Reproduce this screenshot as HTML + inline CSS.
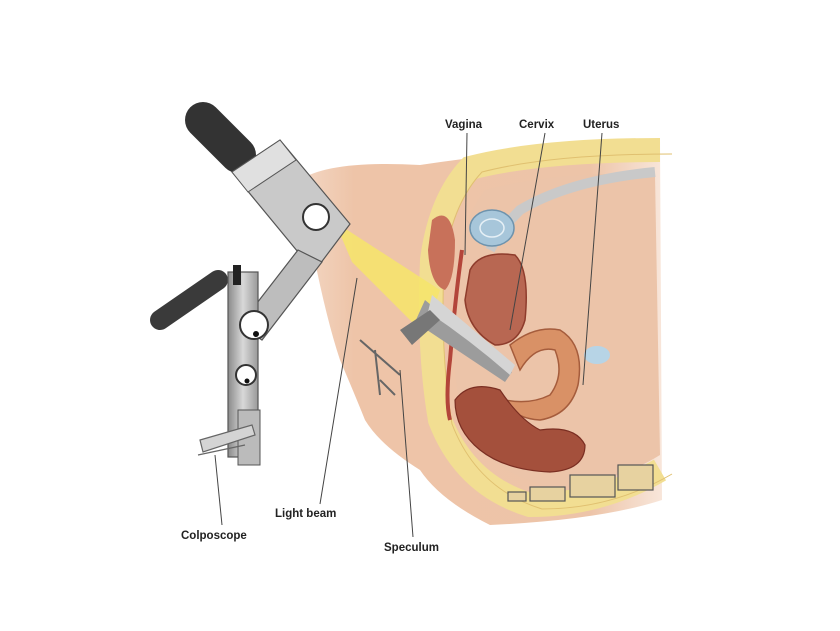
<!DOCTYPE html>
<html><head><style>
html,body{margin:0;padding:0;background:#fff;}
svg{display:block;}
text{font-family:"Liberation Sans",sans-serif;font-weight:bold;font-size:11.5px;fill:#222;}
</style></head><body>
<svg width="840" height="631" viewBox="0 0 840 631">
<defs>
<linearGradient id="sk" x1="0" y1="0" x2="1" y2="0">
<stop offset="0" stop-color="#f3d7c4"/><stop offset="0.15" stop-color="#eec4a8"/><stop offset="0.8" stop-color="#edc4a8"/><stop offset="1" stop-color="#f8e6da"/>
</linearGradient>
<linearGradient id="gr" x1="0" y1="0" x2="1" y2="0">
<stop offset="0" stop-color="#8a8a8a"/><stop offset="0.5" stop-color="#d8d8d8"/><stop offset="1" stop-color="#9a9a9a"/>
</linearGradient>
</defs>
<!-- body -->
<path d="M300,180 Q330,160 420,165 Q520,150 660,140 L662,500 Q600,520 490,525 Q440,500 420,470 Q380,445 365,420 Q355,395 340,360 Q320,300 300,180 Z" fill="url(#sk)"/>
<!-- fat band -->
<path d="M660,150 Q540,150 470,168 Q440,200 432,260 Q428,350 440,420 Q465,485 530,505 Q600,505 660,470" fill="none" stroke="#f2de92" stroke-width="24"/>
<path d="M660,150 Q540,150 470,168 Q440,200 432,260 Q428,350 440,420 Q465,485 530,505 Q600,505 660,470" fill="none" stroke="#e0c070" stroke-width="1" transform="translate(12,4)"/>
<!-- inner cavity -->
<path d="M655,175 Q560,170 485,190 Q455,230 452,300 Q452,380 465,430 Q500,480 560,488 Q620,480 660,455 Z" fill="#ecc4a9"/>
<path d="M655,172 Q570,180 520,210 Q500,230 490,250" fill="none" stroke="#c9c9c9" stroke-width="10"/>
<!-- pubic bone -->
<ellipse cx="492" cy="228" rx="22" ry="18" fill="#a7c6da" stroke="#6e93ad" stroke-width="1.5"/>
<ellipse cx="492" cy="228" rx="12" ry="9" fill="none" stroke="#e6f0f6" stroke-width="1.5"/>
<!-- bladder -->
<path d="M470,270 Q480,250 515,255 Q530,270 525,320 Q518,345 495,345 Q468,330 465,300 Z" fill="#b86752" stroke="#8e3c2c" stroke-width="1.5"/>
<path d="M432,220 Q450,205 455,240 Q455,280 445,290 Q430,285 428,250 Z" fill="#c8715a"/>
<path d="M462,250 Q455,300 450,360 Q445,400 450,420" fill="none" stroke="#b3453a" stroke-width="4"/>
<!-- uterus -->
<path d="M510,345 Q535,325 560,330 Q585,345 578,385 Q570,415 540,420 Q512,418 505,400 Q530,405 550,395 Q565,375 555,350 Q535,345 520,370 Z" fill="#d99166" stroke="#a55c3c" stroke-width="1.5"/>
<ellipse cx="597" cy="355" rx="13" ry="9" fill="#b7d4e6"/>
<!-- rectum -->
<path d="M455,400 Q470,380 500,390 Q520,420 540,430 Q575,425 585,445 Q585,470 550,472 Q505,470 480,450 Q455,430 455,400 Z" fill="#a4503c" stroke="#7a2e22" stroke-width="1.2"/>
<g fill="#e7d2a0" stroke="#555" stroke-width="1.2">
<rect x="508" y="492" width="18" height="9"/><rect x="530" y="487" width="35" height="14"/><rect x="570" y="475" width="45" height="22"/><rect x="618" y="465" width="35" height="25"/>
</g>
<!-- light beam -->
<polygon points="335,222 352,262 425,335 440,290" fill="#f6e56a" opacity="0.85"/>
<!-- speculum -->
<path d="M425,300 L512,372 L505,382 L415,322 Z" fill="#9c9c9c"/>
<path d="M432,295 L515,365 L510,375 Q470,340 428,312 Z" fill="#d5d5d5"/>
<path d="M400,330 L430,310 L440,320 L412,345 Z" fill="#777"/>
<path d="M360,340 L400,375 M375,350 L380,395 M380,380 L395,395" stroke="#666" stroke-width="2"/>
<!-- colposcope -->
<line x1="203" y1="120" x2="238" y2="155" stroke="#333" stroke-width="36" stroke-linecap="round"/>
<path d="M232,172 L280,140 L350,224 L320,264 L298,252 Z" fill="#c9c9c9" stroke="#555" stroke-width="1.2"/>
<path d="M232,172 L280,140 L296,160 L248,192 Z" fill="#e0e0e0" stroke="#555" stroke-width="1"/>
<circle cx="316" cy="217" r="13" fill="#fff" stroke="#333" stroke-width="2"/>
<path d="M298,250 L322,262 L262,340 L240,325 Z" fill="#bdbdbd" stroke="#555" stroke-width="1.2"/>
<line x1="160" y1="320" x2="218" y2="280" stroke="#3a3a3a" stroke-width="20" stroke-linecap="round"/>
<rect x="228" y="272" width="30" height="185" fill="url(#gr)" stroke="#555" stroke-width="1.2"/>
<rect x="233" y="265" width="8" height="20" fill="#222"/>
<circle cx="254" cy="325" r="14" fill="#fff" stroke="#333" stroke-width="2"/>
<circle cx="256" cy="334" r="3" fill="#111"/>
<circle cx="246" cy="375" r="10" fill="#fff" stroke="#333" stroke-width="2"/>
<circle cx="247" cy="381" r="2.5" fill="#111"/>
<rect x="238" y="410" width="22" height="55" fill="#bbb" stroke="#555"/>
<path d="M200,440 L252,425 L255,435 L203,452 Z M198,455 L245,445" fill="#d4d4d4" stroke="#666" stroke-width="1.2"/>
<g stroke="#444" stroke-width="1" fill="none">
<line x1="467" y1="133" x2="465" y2="255"/>
<line x1="545" y1="133" x2="510" y2="330"/>
<line x1="602" y1="133" x2="583" y2="385"/>
<line x1="357" y1="278" x2="320" y2="504"/>
<line x1="215" y1="455" x2="222" y2="525"/>
<line x1="400" y1="370" x2="413" y2="537"/>
</g>
<text x="445" y="128">Vagina</text>
<text x="519" y="128">Cervix</text>
<text x="583" y="128">Uterus</text>
<text x="275" y="517">Light beam</text>
<text x="181" y="539">Colposcope</text>
<text x="384" y="551">Speculum</text>
</svg>
</body></html>
